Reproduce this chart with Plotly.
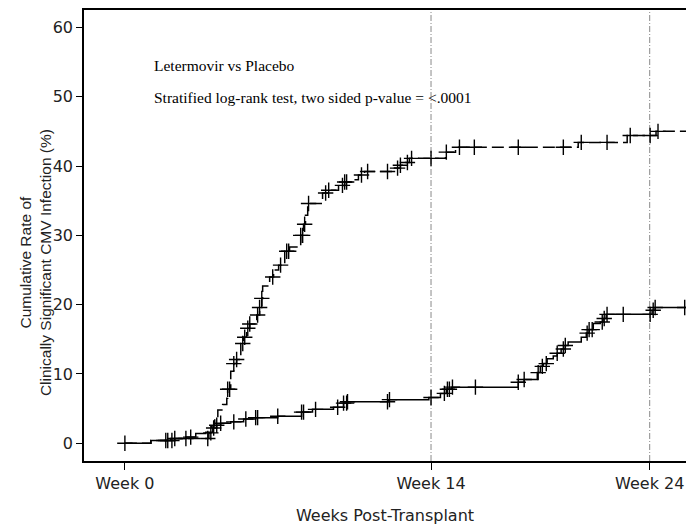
import plotly.graph_objects as go

# ---- data (weeks post-transplant, cumulative % with clinically significant CMV infection) ----
placebo_step_weeks = [0, 1.19, 2.28, 3.84, 3.97, 4.11, 4.25, 4.47, 4.66, 4.70, 4.84, 4.98, 5.11, 5.30,
                      5.43, 5.57, 5.71, 6.03, 6.16, 6.26, 6.30, 6.62, 6.80, 7.03, 7.31, 7.53, 8.04,
                      8.17, 8.26, 8.36, 9.04, 9.32, 9.77, 10.05, 10.41, 10.68, 10.96, 12.28, 12.60,
                      12.83, 13.01, 14.66, 15.12, 20.73, 22.97, 24.29, 26.0]
placebo_step_rate = [0, 0.4, 0.7, 1.5, 2.5, 3.5, 4.8, 5.6, 6.5, 7.8, 10.4, 11.5, 12.1, 14.4,
                     15.3, 16.6, 17.2, 18.5, 19.6, 20.9, 22.7, 24.0, 25.0, 25.7, 27.7, 28.3, 30.0,
                     31.6, 32.9, 34.6, 36.1, 36.5, 37.2, 37.7, 38.0, 38.7, 39.2, 39.7, 40.1,
                     40.5, 41.1, 42.0, 42.7, 43.4, 44.4, 45.0, 45.0]
placebo_censor_weeks = [0, 1.87, 2.15, 2.79, 3.79, 3.93, 4.70, 4.79, 4.98, 5.11, 5.39, 5.48, 5.62,
                        5.71, 6.07, 6.16, 6.26, 6.76, 7.12, 7.40, 7.49, 8.04, 8.13, 8.22, 8.40,
                        9.18, 9.32, 9.95, 10.05, 10.14, 10.82, 11.10, 12.01, 12.47, 12.60, 12.92,
                        13.11, 14.0, 14.70, 15.30, 15.98, 17.99, 20.05, 20.87, 22.05, 23.11,
                        24.02, 24.38]

letermovir_step_weeks = [0, 1.19, 2.10, 2.79, 3.24, 3.70, 4.02, 4.20, 4.38, 4.84, 5.43, 5.98, 6.99,
                         8.08, 8.58, 9.54, 10.00, 10.18, 12.05, 13.90, 14.43, 14.70, 14.93, 17.99,
                         18.26, 18.86, 19.00, 19.13, 19.31, 19.59, 19.77, 19.95, 20.14, 20.27,
                         20.87, 21.10, 21.23, 21.42, 21.74, 21.87, 22.01, 24.11, 24.25, 26.0]
letermovir_step_rate = [0, 0.4, 0.7, 0.9, 1.4, 1.6, 2.2, 2.6, 2.9, 3.1, 3.5, 3.7, 3.9,
                        4.5, 4.9, 5.2, 5.8, 6.0, 6.3, 6.6, 7.2, 7.8, 8.1, 8.8,
                        9.2, 10.2, 11.1, 11.5, 12.2, 12.6, 13.0, 13.6, 14.1, 14.6,
                        15.3, 15.9, 16.4, 17.3, 17.5, 18.0, 18.6, 19.2, 19.6, 19.6]
letermovir_censor_weeks = [1.96, 2.28, 3.01, 4.06, 4.20, 4.38, 4.98, 5.53, 5.98, 6.07, 6.99, 8.08,
                           8.17, 8.72, 9.73, 10.00, 10.14, 10.18, 12.01, 12.10, 14.0, 14.61, 14.75,
                           14.84, 14.98, 16.03, 17.99, 18.26, 18.90, 19.09, 19.27, 19.77, 20.05,
                           20.14, 21.14, 21.23, 21.37, 21.83, 21.92, 22.05, 22.79, 24.02, 24.16,
                           24.25, 25.6]

x_tick_vals = [0, 14, 24]
x_tick_text = ["Week 0", "Week 14", "Week 24"]
y_tick_vals = [0, 10, 20, 30, 40, 50, 60]
ref_weeks = [14, 24]

annot_lines = ["Letermovir vs Placebo",
               "Stratified log-rank test, two sided p-value = <.0001"]
y_title = "Cumulative Rate of<br>Clinically Significant CMV Infection (%)"
x_title = "Weeks Post-Transplant"


def step_value(times, rates, t):
    v = rates[0]
    for ti, ri in zip(times, rates):
        if ti <= t:
            v = ri
        else:
            break
    return v


fig = go.Figure()

for times, rates, censors, dash in [
    (placebo_step_weeks, placebo_step_rate, placebo_censor_weeks, "12px,5px"),
    (letermovir_step_weeks, letermovir_step_rate, letermovir_censor_weeks, "solid"),
]:
    fig.add_trace(go.Scatter(x=times, y=rates, mode="lines", line_shape="hv",
                             line=dict(color="black", width=1.5, dash=dash),
                             hoverinfo="skip", showlegend=False))
    fig.add_trace(go.Scatter(x=censors, y=[step_value(times, rates, c) for c in censors],
                             mode="markers",
                             marker=dict(symbol="cross-thin", size=11,
                                         line=dict(color="black", width=1.4)),
                             hoverinfo="skip", showlegend=False))

for w in ref_weeks:
    fig.add_shape(type="line", x0=w, x1=w, y0=0, y1=1, xref="x", yref="paper",
                  line=dict(color="#8a8a8a", width=1, dash="6px,2px,1px,2px"), layer="below")

for i, txt in enumerate(annot_lines):
    fig.add_annotation(x=1.23, y=54.5 - i * 4.6, xref="x", yref="y", text=txt,
                       showarrow=False, xanchor="left", yanchor="middle",
                       font=dict(family="Liberation Serif", size=15.5, color="black"))

fig.add_annotation(x=-0.0814, y=0.441, xref="paper", yref="paper", text=y_title,
                   textangle=-90, showarrow=False, xanchor="center", yanchor="middle",
                   font=dict(family="Liberation Sans", size=15.5, color="#222"))

axis_font = dict(family="DejaVu Sans", size=16, color="#222")

fig.update_layout(
    width=686, height=527,
    margin=dict(l=84, r=0, t=10, b=66),
    plot_bgcolor="white", paper_bgcolor="white",
    xaxis=dict(range=[-1.87, 25.66], tickvals=x_tick_vals, ticktext=x_tick_text,
               showgrid=False, zeroline=False, showline=True, linecolor="black",
               linewidth=1.5, mirror=True, ticks="outside", ticklen=7, tickwidth=1,
               tickcolor="black", tickfont=axis_font,
               title=dict(text=x_title, font=axis_font, standoff=18)),
    yaxis=dict(range=[-2.55, 62.5], tickvals=y_tick_vals, showgrid=False, zeroline=False,
               showline=True, linecolor="black", linewidth=1.5, mirror=False,
               ticks="outside", ticklen=6, tickwidth=1, tickcolor="black",
               tickfont=axis_font),
)

fig.write_html("out.html")
